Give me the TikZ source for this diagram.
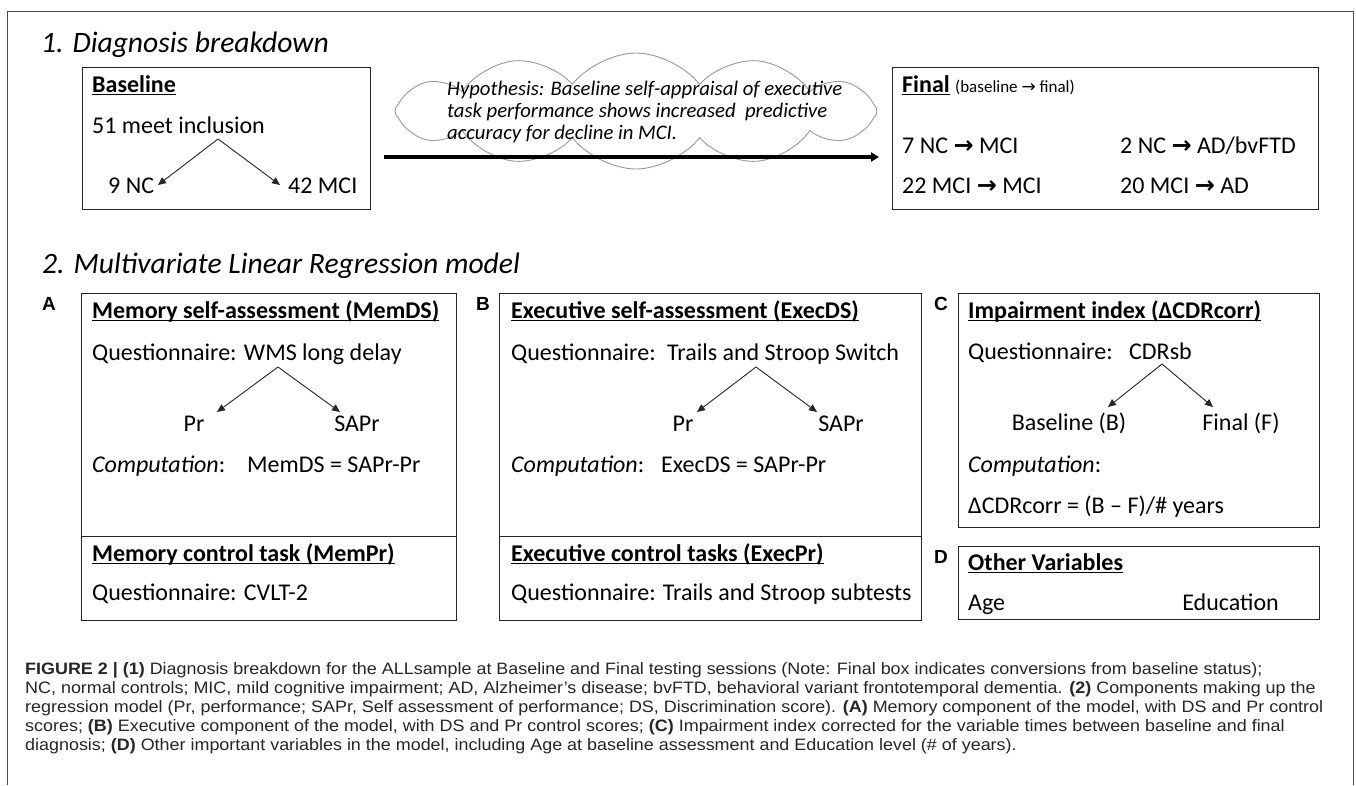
\documentclass[tikz,border=0pt]{standalone}
\usepackage{fontspec}
\setmainfont{Carlito}
\newfontfamily\arialfont{Liberation Sans}
\newfontfamily\capfont{Liberation Sans}
\newfontfamily\symfont{DejaVu Sans}
\usepackage{graphicx}
\usetikzlibrary{arrows.meta,shapes.symbols}
\newsavebox\ulbox
\newcommand{\undl}[1]{\leavevmode\sbox\ulbox{#1}\rlap{\rule[-3.4pt]{\wd\ulbox}{1.2pt}}\usebox\ulbox}
\newcommand{\rarr}{{\symfont\bfseries →}}
\newlength\capw
\newsavebox\capmeasure
\begin{document}
\sbox\capmeasure{\capfont\fontsize{16.5}{19}\selectfont regression model (Pr, performance; SAPr, Self assessment of performance; DS, Discrimination score). \textbf{(A)} Memory component of the model, with DS and Pr control}%
\setlength\capw{\wd\capmeasure}%
\pgfmathsetmacro\capsx{1298pt/\capw}%
\begin{tikzpicture}[x=1pt,y=-1pt,
  box/.style={draw=black!85, line width=1.3pt, inner sep=0pt, anchor=north west},
  txt/.style={anchor=base west, inner sep=0pt, font=\fontsize{24}{28}\selectfont},
  ctxt/.style={txt, anchor=base},
  ttl/.style={anchor=base west, inner sep=0pt, font=\itshape\fontsize{29.6}{34}\selectfont},
  lab/.style={anchor=base, inner sep=0pt, font=\arialfont\bfseries\fontsize{19}{22}\selectfont},
  tree/.style={draw=black!85, line width=0.9pt, -{Triangle[length=8pt,width=7pt]}},
  hyp/.style={anchor=base west, inner sep=0pt, font=\itshape\fontsize{20.7}{24}\selectfont},
  captxt/.style={anchor=base west, inner sep=0pt, text=black!85, font=\capfont\fontsize{16.5}{19}\selectfont},
  frame/.style={draw=black!70, line width=1pt},
  bigarrow/.style={draw=black, line width=3.5pt, -{Triangle[length=8pt,width=9pt]}},
  cloudshape/.style={cloud, draw=black!40, line width=0.9pt, cloud puffs=12, cloud puff arc=105, aspect=4.3, inner sep=0pt}
]
\useasboundingbox (0,0) rectangle (1356,785);
\fill[white] (0,0) rectangle (1356,785);
% outer frame
\draw[frame] (7,785) -- (7,11) -- (1353,11) -- (1353,785);

% ---------- Section 1 ----------
\node[ttl] (t1) at (41,52) {1. Diagnosis breakdown};

\node[box, minimum width=288pt, minimum height=142pt] (basebox) at (82,67) {};
\node[txt] (bl) at (92,92) {\textbf{\undl{Baseline}}};
\node[txt] (incl) at (92,133) {51 meet inclusion};
\node[txt] (nc) at (108,193) {9 NC};
\node[txt] (mci) at (288,193) {42 MCI};
\coordinate (apex0) at (218,139);
\coordinate (tip0l) at (158,185);
\coordinate (tip0r) at (280,185);
\draw[tree] (apex0) -- (tip0l);
\draw[tree] (apex0) -- (tip0r);

\node[cloudshape, minimum width=482pt, minimum height=116pt] (cl) at (636,111) {};
\node[hyp] (h1) at (447,95) {Hypothesis: Baseline self-appraisal of executive};
\node[hyp] (h2) at (447,117) {task performance shows increased\ \ predictive};
\node[hyp] (h3) at (447,139) {accuracy for decline in MCI.};

\node[box, minimum width=426pt, minimum height=142pt] (finalbox) at (892,67) {};
\coordinate (arry) at (0,157);
\draw[bigarrow] ([xshift=13pt]basebox.east |- arry) -- ([xshift=-13pt]finalbox.west |- arry);

\node[txt] (fin) at (902,92) {\textbf{\undl{Final}} {\fontsize{17}{20}\selectfont (baseline {\symfont →} final)}};
\node[txt] (f1) at (902,153) {7 NC \rarr\ MCI};
\node[txt] (f2) at (1120,153) {2 NC \rarr\ AD/bvFTD};
\node[txt] (f3) at (902,193) {22 MCI \rarr\ MCI};
\node[txt] (f4) at (1120,193) {20 MCI \rarr\ AD};

% ---------- Section 2 ----------
\node[ttl] (t2) at (42,273) {2. Multivariate Linear Regression model};

% Box A
\node[lab] (la) at (49,310) {A};
\node[box, minimum width=375pt, minimum height=327pt] (boxA) at (81,293) {};
\draw[box] ([yshift=85pt]boxA.south west) -- ([yshift=85pt]boxA.south east);
\node[txt] (a1) at (92,318) {\textbf{\undl{Memory self-assessment (MemDS)}}};
\node[txt] (a2) at (92,360) {Questionnaire: WMS long delay};
\node[ctxt] (apr) at (194,431) {Pr};
\node[ctxt] (asapr) at (357,431) {SAPr};
\coordinate (apexA) at (278,367);
\coordinate (tipAl) at (217,412);
\coordinate (tipAr) at (340,412);
\draw[tree] (apexA) -- (tipAl);
\draw[tree] (apexA) -- (tipAr);
\node[txt] (a3) at (92,472) {\makebox[155pt][l]{\textit{Computation}:}MemDS = SAPr-Pr};
\node[txt] (a4) at (92,561) {\textbf{\undl{Memory control task (MemPr)}}};
\node[txt] (a5) at (92,600) {Questionnaire: CVLT-2};

% Box B
\node[lab] (lb) at (483,310) {B};
\node[box, minimum width=422pt, minimum height=327pt] (boxB) at (499,293) {};
\draw[box] ([yshift=85pt]boxB.south west) -- ([yshift=85pt]boxB.south east);
\node[txt] (b1) at (511,318) {\textbf{\undl{Executive self-assessment (ExecDS)}}};
\node[txt] (b2) at (511,360) {\makebox[156pt][l]{Questionnaire:}Trails and Stroop Switch};
\node[ctxt] (bpr) at (683,431) {Pr};
\node[ctxt] (bsapr) at (841,431) {SAPr};
\coordinate (apexB) at (756,367);
\coordinate (tipBl) at (697,412);
\coordinate (tipBr) at (817,412);
\draw[tree] (apexB) -- (tipBl);
\draw[tree] (apexB) -- (tipBr);
\node[txt] (b3) at (511,472) {\makebox[150pt][l]{\textit{Computation}:}ExecDS = SAPr-Pr};
\node[txt] (b4) at (511,561) {\textbf{\undl{Executive control tasks (ExecPr)}}};
\node[txt] (b5) at (511,600) {Questionnaire: Trails and Stroop subtests};

% Box C
\node[lab] (lc) at (941,310) {C};
\node[box, minimum width=361pt, minimum height=234pt] (boxC) at (958,293) {};
\node[txt] (c1) at (968,318) {\textbf{\undl{Impairment index (ΔCDRcorr)}}};
\node[txt] (c2) at (968,359) {\makebox[161pt][l]{Questionnaire:}CDRsb};
\node[ctxt] (cb) at (1069,430) {Baseline (B)};
\node[ctxt] (cf) at (1241,430) {Final (F)};
\coordinate (apexC) at (1162,364);
\coordinate (tipCl) at (1108,407);
\coordinate (tipCr) at (1213,407);
\draw[tree] (apexC) -- (tipCl);
\draw[tree] (apexC) -- (tipCr);
\node[txt] (c3) at (968,472) {\textit{Computation}:};
\node[txt] (c4) at (968,513) {ΔCDRcorr = (B – F)/\# years};

% Box D
\node[lab] (ld) at (941,563) {D};
\node[box, minimum width=361pt, minimum height=73pt] (boxD) at (958,546) {};
\node[txt] (d1) at (968,570) {\textbf{\undl{Other Variables}}};
\node[txt] (d2) at (968,610) {Age};
\node[txt, anchor=base east] (d3) at (1279,610) {Education};

% ---------- Caption ----------
\node[captxt] (cap1) at (25,674) {\scalebox{\capsx}[1]{\textbf{FIGURE 2 | (1)} Diagnosis breakdown for the ALLsample at Baseline and Final testing sessions (Note: Final box indicates conversions from baseline status);}};
\node[captxt] (cap2) at (25,693) {\scalebox{\capsx}[1]{NC, normal controls; MIC, mild cognitive impairment; AD, Alzheimer’s disease; bvFTD, behavioral variant frontotemporal dementia. \textbf{(2)} Components making up the}};
\node[captxt] (cap3) at (25,712) {\scalebox{\capsx}[1]{regression model (Pr, performance; SAPr, Self assessment of performance; DS, Discrimination score). \textbf{(A)} Memory component of the model, with DS and Pr control}};
\node[captxt] (cap4) at (25,731) {\scalebox{\capsx}[1]{scores; \textbf{(B)} Executive component of the model, with DS and Pr control scores; \textbf{(C)} Impairment index corrected for the variable times between baseline and final}};
\node[captxt] (cap5) at (25,750) {\scalebox{\capsx}[1]{diagnosis; \textbf{(D)} Other important variables in the model, including Age at baseline assessment and Education level (\# of years).}};
\end{tikzpicture}
\end{document}
